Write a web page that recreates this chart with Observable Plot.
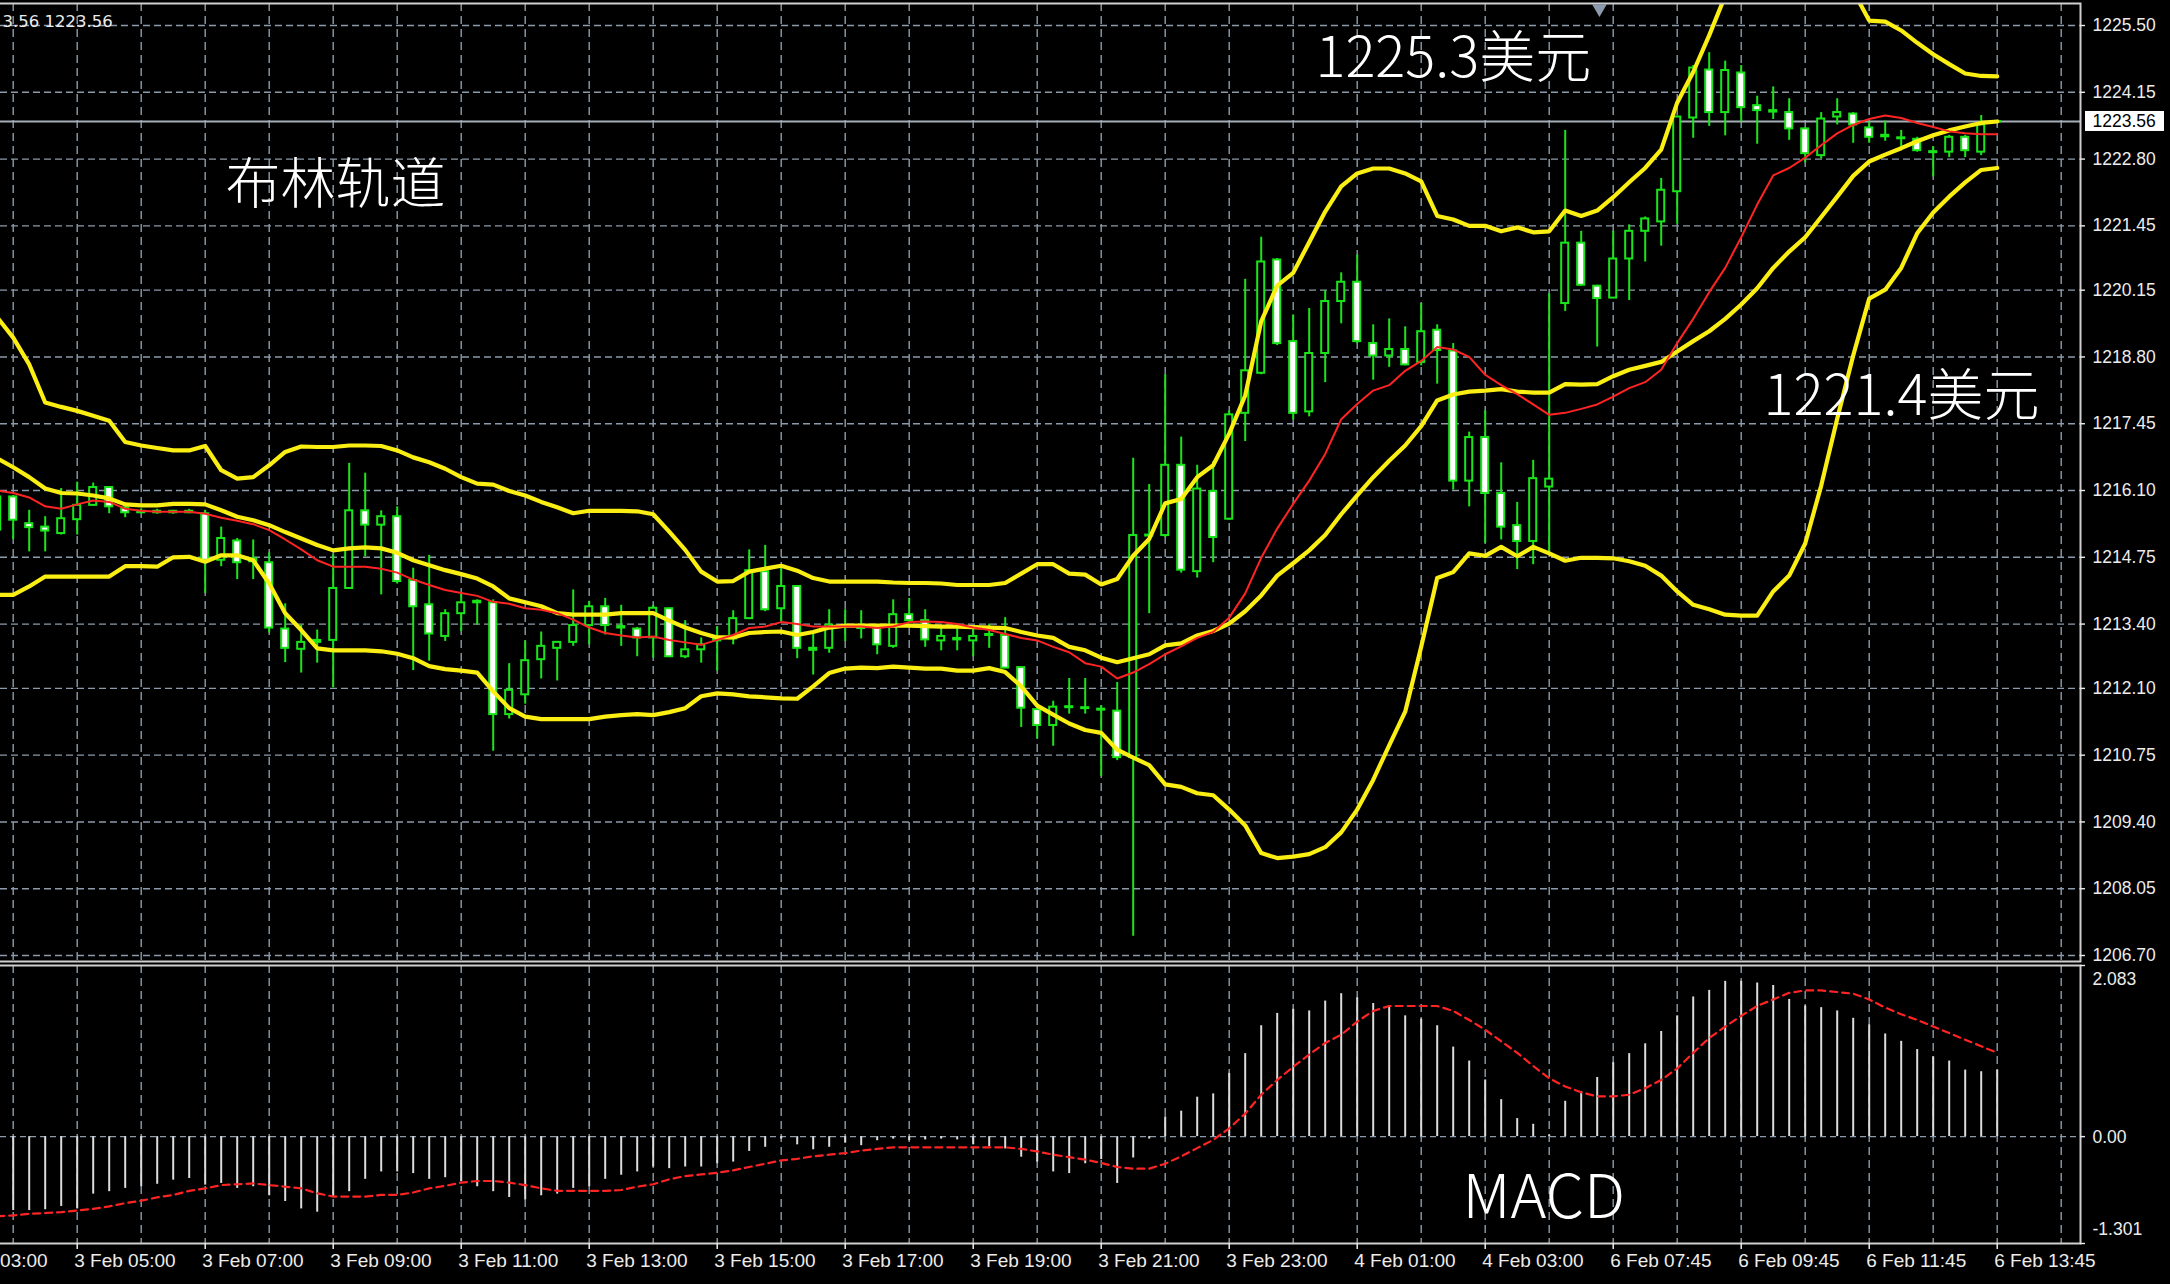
<!DOCTYPE html>
<html>
<head>
<meta charset="utf-8">
<script src="https://cdn.jsdelivr.net/npm/d3@7"></script>
<script src="https://cdn.jsdelivr.net/npm/@observablehq/plot@0.6"></script>
<style>
html, body { margin: 0; padding: 0; background: #000; }
#chart { width: 2170px; height: 1284px; background: #000; overflow: hidden; position: relative; }
#chart svg { display: block; }
#chart svg.mainpanel { position: relative; z-index: 2; overflow: visible; }
#chart svg.macdpanel { position: relative; z-index: 1; }
</style>
</head>
<body>
<div id="chart"></div>
<script>
// ---------- DATA (candle index -1 .. 124, 15-minute bars) ----------
const open = [
1215.30,
1215.97,1215.43,1215.36,1215.23,1215.51,1215.80,1216.16,1215.75,1215.65,1215.68,
1215.65,1215.68,1215.63,1214.69,1215.08,1214.66,1214.64,1213.30,1212.89,1213.03,
1213.07,1214.12,1215.69,1215.40,1215.57,1214.28,1213.79,1213.15,1213.61,1213.83,
1213.83,1211.57,1211.97,1212.68,1212.91,1213.03,1213.37,1213.75,1213.32,1213.30,
1213.12,1213.71,1212.74,1212.88,1213.06,1213.10,1213.51,1214.46,1213.71,1214.16,
1212.87,1212.91,1213.34,1213.31,1213.32,1212.95,1213.59,1213.47,1213.06,1213.08,
1213.06,1213.17,1213.17,1212.52,1211.67,1211.35,1211.71,1211.69,1211.66,1211.64,
1210.70,1215.18,1215.19,1216.61,1214.46,1216.08,1215.52,1217.66,1218.47,1220.76,
1219.11,1217.69,1218.87,1219.92,1220.31,1219.07,1218.82,1218.95,1218.69,1219.34,
1218.92,1216.29,1217.17,1216.04,1215.39,1215.07,1216.17,1219.88,1221.10,1220.23,
1219.99,1220.78,1221.34,1221.53,1222.14,1223.63,1224.60,1223.74,1224.54,1223.88,
1223.75,1223.74,1223.41,1222.87,1223.65,1223.71,1223.43,1223.25,1223.21,1223.20,
1222.93,1222.94,1223.24,1222.94,1223.55];
const high = [
1216.00,
1216.00,1215.70,1215.57,1216.14,1216.27,1216.25,1216.18,1215.82,1215.73,1215.72,
1215.70,1215.72,1215.70,1215.36,1215.13,1215.10,1214.84,1213.81,1213.38,1213.28,
1214.81,1216.65,1216.45,1215.69,1215.77,1214.53,1214.79,1213.69,1214.02,1213.89,
1213.89,1212.60,1213.06,1213.24,1213.05,1214.09,1213.86,1213.92,1213.78,1213.33,
1213.78,1213.72,1213.47,1213.12,1213.35,1213.67,1214.90,1214.99,1214.53,1214.18,
1213.22,1213.69,1213.69,1213.67,1213.33,1213.89,1213.92,1213.69,1213.32,1213.32,
1213.32,1213.40,1213.53,1212.53,1211.70,1211.84,1212.30,1212.30,1211.75,1212.22,
1216.75,1216.22,1218.44,1217.18,1216.61,1216.68,1217.71,1220.37,1221.22,1220.79,
1219.65,1219.78,1220.14,1220.50,1220.86,1219.45,1219.57,1219.41,1219.88,1219.45,
1219.07,1217.28,1217.71,1216.66,1215.86,1216.71,1220.08,1223.38,1221.34,1220.25,
1221.34,1221.47,1221.63,1222.41,1223.67,1224.69,1224.95,1224.78,1224.69,1224.07,
1224.26,1224.02,1223.43,1223.74,1224.02,1223.74,1223.55,1223.57,1223.38,1223.24,
1223.05,1223.28,1223.28,1223.68,1223.58];
const low = [
1215.28,
1215.11,1214.86,1214.86,1215.20,1215.20,1215.78,1215.63,1215.55,1215.63,1215.62,
1215.62,1215.63,1214.02,1214.56,1214.30,1214.30,1213.22,1212.62,1212.41,1212.61,
1212.11,1214.10,1214.76,1213.99,1214.21,1212.46,1212.65,1213.05,1213.25,1213.38,
1210.83,1211.48,1211.78,1212.29,1212.25,1212.95,1212.98,1213.18,1212.95,1212.74,
1212.71,1212.72,1212.70,1212.61,1212.45,1212.98,1213.49,1213.65,1213.45,1212.70,
1212.37,1212.81,1213.05,1213.10,1212.78,1212.91,1213.45,1212.93,1212.86,1212.86,
1212.74,1212.91,1212.50,1211.31,1211.08,1210.93,1211.58,1211.58,1210.32,1210.64,
1207.09,1213.61,1215.15,1214.43,1214.33,1214.64,1215.50,1217.09,1218.44,1219.03,
1217.53,1217.59,1218.28,1219.47,1219.07,1218.33,1218.59,1218.62,1218.62,1218.25,
1216.11,1215.77,1215.03,1215.10,1214.50,1214.60,1214.80,1219.72,1220.23,1219.00,
1219.98,1219.94,1220.72,1221.04,1221.48,1223.22,1223.46,1223.27,1223.55,1223.10,
1223.60,1223.18,1222.72,1222.80,1223.49,1223.12,1223.12,1223.16,1222.97,1222.94,
1222.44,1222.83,1222.83,1222.87,1223.54];
const close = [
1215.97,
1215.50,1215.35,1215.28,1215.53,1215.80,1216.16,1215.77,1215.65,1215.68,1215.65,
1215.68,1215.65,1214.69,1215.13,1214.64,1214.72,1213.32,1212.91,1213.03,1213.07,
1214.12,1215.69,1215.40,1215.57,1214.26,1213.75,1213.20,1213.61,1213.83,1213.86,
1211.57,1212.06,1212.66,1212.95,1213.03,1213.37,1213.75,1213.37,1213.35,1213.12,
1213.72,1212.74,1212.88,1212.98,1213.10,1213.51,1214.48,1213.69,1214.16,1212.91,
1212.91,1213.38,1213.37,1213.34,1212.98,1213.59,1213.47,1213.08,1213.15,1213.11,
1213.15,1213.19,1212.51,1211.70,1211.35,1211.72,1211.73,1211.71,1211.68,1210.70,
1215.19,1215.20,1216.61,1214.49,1216.13,1215.15,1217.63,1218.52,1220.72,1219.07,
1217.66,1218.87,1219.92,1220.31,1219.11,1218.82,1218.95,1218.64,1219.31,1218.93,
1216.29,1217.17,1216.04,1215.36,1215.07,1216.34,1216.33,1221.10,1220.25,1219.98,
1220.78,1221.34,1221.59,1222.17,1223.65,1224.64,1223.74,1224.59,1223.84,1223.78,
1223.78,1223.41,1222.91,1223.61,1223.74,1223.49,1223.24,1223.28,1223.23,1222.97,
1222.95,1223.24,1222.97,1223.49,1223.56];

const upperBand = [
1219.60,
1219.19,1218.65,1217.88,1217.79,1217.71,1217.61,1217.51,1217.08,1217.01,1216.96,
1216.91,1216.91,1217.00,1216.51,1216.34,1216.37,1216.61,1216.88,1216.99,1216.98,
1216.98,1217.01,1217.01,1217.00,1216.91,1216.77,1216.67,1216.54,1216.37,1216.24,
1216.22,1216.09,1216.00,1215.87,1215.76,1215.64,1215.69,1215.69,1215.69,1215.68,
1215.62,1215.27,1214.90,1214.46,1214.26,1214.27,1214.46,1214.52,1214.58,1214.48,
1214.33,1214.26,1214.26,1214.26,1214.26,1214.24,1214.23,1214.23,1214.22,1214.19,
1214.19,1214.19,1214.23,1214.42,1214.61,1214.61,1214.42,1214.40,1214.20,1214.31,
1214.78,1215.12,1215.84,1215.93,1216.37,1216.61,1217.25,1218.02,1219.52,1220.24,
1220.50,1221.12,1221.74,1222.25,1222.51,1222.61,1222.61,1222.51,1222.35,1221.65,
1221.58,1221.45,1221.45,1221.34,1221.42,1221.32,1221.34,1221.76,1221.65,1221.76,
1222.03,1222.33,1222.62,1222.99,1223.94,1224.56,1225.30,1226.10,1226.60,1226.90,
1227.05,1227.10,1227.00,1226.80,1226.55,1226.20,1225.60,1225.58,1225.40,1225.15,
1224.92,1224.72,1224.53,1224.48,1224.47];
const middleBand = [
1216.75,
1216.57,1216.37,1216.14,1216.05,1216.04,1216.00,1215.94,1215.82,1215.80,1215.80,
1215.83,1215.83,1215.82,1215.70,1215.57,1215.50,1215.40,1215.26,1215.13,1215.00,
1214.89,1214.93,1214.95,1214.93,1214.84,1214.69,1214.59,1214.49,1214.41,1214.32,
1214.16,1213.92,1213.84,1213.76,1213.62,1213.59,1213.59,1213.59,1213.62,1213.62,
1213.62,1213.47,1213.33,1213.22,1213.13,1213.13,1213.22,1213.24,1213.25,1213.18,
1213.24,1213.33,1213.37,1213.37,1213.37,1213.37,1213.37,1213.36,1213.35,1213.35,
1213.34,1213.33,1213.32,1213.24,1213.17,1213.12,1212.94,1212.87,1212.72,1212.63,
1212.71,1212.79,1212.97,1213.01,1213.17,1213.26,1213.41,1213.66,1213.98,1214.38,
1214.63,1214.89,1215.20,1215.62,1216.00,1216.37,1216.70,1217.01,1217.40,1217.92,
1218.04,1218.10,1218.12,1218.15,1218.10,1218.08,1218.08,1218.25,1218.24,1218.25,
1218.41,1218.54,1218.62,1218.70,1218.91,1219.12,1219.32,1219.57,1219.86,1220.19,
1220.60,1220.93,1221.22,1221.63,1222.04,1222.46,1222.75,1222.89,1223.02,1223.16,
1223.28,1223.38,1223.46,1223.53,1223.56];
const lowerBand = [
1213.99,
1213.99,1214.16,1214.36,1214.36,1214.36,1214.36,1214.36,1214.57,1214.57,1214.56,
1214.75,1214.76,1214.66,1214.79,1214.79,1214.69,1214.22,1213.62,1213.28,1212.91,
1212.87,1212.87,1212.87,1212.85,1212.80,1212.71,1212.55,1212.49,1212.46,1212.42,
1212.04,1211.70,1211.53,1211.48,1211.48,1211.48,1211.48,1211.53,1211.56,1211.58,
1211.56,1211.62,1211.70,1211.94,1212.00,1211.98,1211.94,1211.92,1211.90,1211.89,
1212.14,1212.41,1212.50,1212.52,1212.51,1212.54,1212.52,1212.50,1212.50,1212.46,
1212.46,1212.51,1212.43,1212.14,1211.75,1211.57,1211.39,1211.26,1211.20,1210.86,
1210.70,1210.55,1210.16,1210.11,1209.98,1209.94,1209.65,1209.33,1208.77,1208.67,
1208.70,1208.75,1208.89,1209.19,1209.65,1210.25,1210.95,1211.63,1212.94,1214.33,
1214.45,1214.83,1214.78,1214.96,1214.77,1214.96,1214.83,1214.68,1214.74,1214.74,
1214.73,1214.67,1214.58,1214.38,1214.06,1213.79,1213.70,1213.59,1213.57,1213.57,
1214.06,1214.38,1215.03,1216.20,1217.55,1218.83,1219.98,1220.16,1220.60,1221.30,
1221.72,1222.04,1222.33,1222.58,1222.62];
const maLine = [
1216.10,
1216.05,1215.96,1215.78,1215.73,1215.82,1215.90,1215.87,1215.73,1215.69,1215.67,
1215.67,1215.67,1215.63,1215.55,1215.49,1215.42,1215.30,1215.11,1214.91,1214.69,
1214.56,1214.56,1214.56,1214.52,1214.44,1214.30,1214.19,1214.09,1214.03,1213.97,
1213.85,1213.81,1213.72,1213.69,1213.62,1213.49,1213.33,1213.22,1213.17,1213.13,
1213.15,1213.08,1213.03,1212.98,1213.08,1213.18,1213.32,1213.35,1213.44,1213.40,
1213.35,1213.35,1213.35,1213.35,1213.32,1213.35,1213.44,1213.45,1213.44,1213.40,
1213.33,1213.28,1213.20,1213.12,1213.07,1212.94,1212.83,1212.61,1212.54,1212.30,
1212.42,1212.59,1212.79,1212.95,1213.12,1213.24,1213.53,1214.02,1214.74,1215.33,
1215.83,1216.30,1216.84,1217.54,1217.85,1218.12,1218.23,1218.52,1218.72,1219.00,
1218.95,1218.80,1218.44,1218.23,1218.05,1217.84,1217.63,1217.67,1217.75,1217.84,
1218.00,1218.17,1218.29,1218.54,1219.08,1219.57,1220.11,1220.60,1221.22,1221.88,
1222.47,1222.62,1222.83,1223.08,1223.32,1223.49,1223.61,1223.68,1223.63,1223.53,
1223.45,1223.36,1223.32,1223.30,1223.30];

// MACD main (histogram), candle index 0 .. 124
const macdHist = [
-0.90,-0.90,-0.89,-0.85,-0.88,-0.70,-0.67,-0.63,-0.61,-0.58,
-0.53,-0.51,-0.59,-0.57,-0.63,-0.61,-0.72,-0.79,-0.88,-0.92,
-0.73,-0.67,-0.52,-0.43,-0.43,-0.45,-0.52,-0.50,-0.55,-0.61,
-0.67,-0.74,-0.77,-0.72,-0.70,-0.63,-0.61,-0.52,-0.47,-0.43,
-0.37,-0.39,-0.37,-0.37,-0.33,-0.31,-0.18,-0.13,-0.03,-0.10,
-0.16,-0.13,-0.08,-0.11,-0.05,-0.03,-0.05,-0.04,-0.03,-0.04,
-0.10,-0.12,-0.15,-0.25,-0.31,-0.43,-0.45,-0.33,-0.28,-0.57,
-0.26,-0.03,0.24,0.31,0.48,0.52,0.77,1.01,1.35,1.50,
1.55,1.53,1.65,1.74,1.69,1.62,1.59,1.47,1.43,1.35,
1.09,0.92,0.69,0.45,0.22,0.15,0.02,0.43,0.55,0.72,
0.90,1.01,1.13,1.28,1.47,1.70,1.78,1.89,1.89,1.87,
1.84,1.67,1.59,1.57,1.53,1.44,1.36,1.25,1.16,1.06,
0.97,0.92,0.81,0.79,0.81];
// MACD signal, candle index -1 .. 124
const macdSignal = [
-0.97,
-0.96,-0.94,-0.93,-0.92,-0.90,-0.88,-0.85,-0.81,-0.78,-0.74,
-0.71,-0.66,-0.63,-0.59,-0.58,-0.57,-0.59,-0.61,-0.63,-0.69,
-0.73,-0.73,-0.73,-0.71,-0.71,-0.68,-0.63,-0.60,-0.56,-0.54,
-0.54,-0.56,-0.59,-0.63,-0.66,-0.66,-0.66,-0.66,-0.65,-0.61,
-0.58,-0.52,-0.48,-0.46,-0.44,-0.41,-0.37,-0.33,-0.29,-0.27,
-0.24,-0.22,-0.20,-0.17,-0.15,-0.13,-0.13,-0.13,-0.13,-0.13,
-0.13,-0.13,-0.13,-0.15,-0.18,-0.22,-0.25,-0.28,-0.32,-0.37,
-0.39,-0.39,-0.33,-0.24,-0.14,-0.04,0.10,0.28,0.51,0.69,
0.85,1.00,1.14,1.24,1.40,1.53,1.59,1.59,1.59,1.59,
1.53,1.42,1.30,1.16,1.02,0.86,0.71,0.61,0.54,0.49,
0.49,0.51,0.59,0.69,0.83,1.02,1.20,1.34,1.47,1.59,
1.67,1.75,1.78,1.78,1.76,1.74,1.67,1.57,1.49,1.42,
1.34,1.26,1.18,1.10,1.02];

const priceTickLabels = ["1206.70","1208.05","1209.40","1210.75","1212.10","1213.40","1214.75","1216.10","1217.45","1218.80","1220.15","1221.45","1222.80","1224.15","1225.50"];
const macdTickLabels = ["2.083", "0.00", "-1.301"];
const macdTickValues = [2.083, 0, -1.301];
const timeLabels = ["3 Feb 03:00","3 Feb 05:00","3 Feb 07:00","3 Feb 09:00","3 Feb 11:00","3 Feb 13:00","3 Feb 15:00","3 Feb 17:00","3 Feb 19:00","3 Feb 21:00","3 Feb 23:00","4 Feb 01:00","4 Feb 03:00","6 Feb 07:45","6 Feb 09:45","6 Feb 11:45","6 Feb 13:45"];
const timeTickIndex = [-4,4,12,20,28,36,44,52,60,68,76,84,92,100,108,116,124];
const hourGridIndex = [0,4,8,12,16,20,24,28,32,36,40,44,48,52,56,60,64,68,72,76,80,84,88,92,96,100,104,108,112,116,120,124,128];
const lastPrice = 1223.56;
const lastPriceLabel = "1223.56";
const headerText = "3.56 1223.56";

// ---------- TABLES ----------
const candles = open.map((o, k) => ({i: k - 1, open: o, high: high[k], low: low[k], close: close[k]}));
const bands = upperBand.map((u, k) => ({i: k - 1, upper: u, middle: middleBand[k], lower: lowerBand[k], ma: maLine[k]}));
const hist = macdHist.map((v, k) => ({i: k, v}));
const signal = macdSignal.map((v, k) => ({i: k - 1, v}));
const priceTicks = priceTickLabels.map(Number);
const timeTicks = timeTickIndex.map((i, k) => ({i, label: timeLabels[k]}));

// ---------- STYLE ----------
const GREEN = "#19e619", YELLOW = "#fbee12", RED = "#ff2424", GRID = "#8c9bab", BORDER = "#cfcfcf", TEXT = "#ececec";
const fontUI = "'Liberation Sans', Arial, sans-serif";
const fontCJK = "'Noto Sans CJK SC', 'Noto Sans', sans-serif";
const xDomain = [-0.79375, 129.206];
const halfBody = 0.22;

const main = Plot.plot({
  width: 2170, height: 963,
  marginLeft: 0, marginRight: 90, marginTop: 3, marginBottom: 2,
  style: {background: "#000", color: TEXT, fontFamily: fontUI, fontSize: "17.5px"},
  x: {domain: xDomain, axis: null},
  y: {domain: [1206.579, 1225.945], axis: null},
  marks: [
    Plot.ruleY(priceTicks, {stroke: GRID, strokeWidth: 1.4, strokeDasharray: "7,4"}),
    Plot.ruleX(hourGridIndex, {stroke: GRID, strokeWidth: 1.4, strokeDasharray: "8,5"}),
    Plot.ruleY([lastPrice], {stroke: "#a6afb8", strokeWidth: 2}),
    Plot.ruleX(candles, {x: "i", y1: "low", y2: "high", stroke: GREEN, strokeWidth: 2}),
    Plot.rect(candles, {filter: d => d.close < d.open, x1: d => d.i - halfBody, x2: d => d.i + halfBody, y1: "open", y2: "close", fill: "#ffffff", stroke: GREEN, strokeWidth: 2}),
    Plot.rect(candles, {filter: d => d.close >= d.open, x1: d => d.i - halfBody, x2: d => d.i + halfBody, y1: "open", y2: "close", fill: "#000000", stroke: GREEN, strokeWidth: 2}),
    Plot.line(bands, {x: "i", y: "upper", stroke: YELLOW, strokeWidth: 4.2, clip: true}),
    Plot.line(bands, {x: "i", y: "middle", stroke: YELLOW, strokeWidth: 4.2, clip: true}),
    Plot.line(bands, {x: "i", y: "lower", stroke: YELLOW, strokeWidth: 4.2, clip: true}),
    Plot.line(bands, {x: "i", y: "ma", stroke: RED, strokeWidth: 2, clip: true}),
    Plot.frame({stroke: BORDER, strokeWidth: 2, insetLeft: -4}),
    // price axis
    Plot.ruleY(priceTicks, {x1: xDomain[1], x2: xDomain[1], insetRight: -5, stroke: TEXT, strokeWidth: 1.4}),
    Plot.text(priceTicks, {y: d => d, text: (d, i) => priceTickLabels[i], frameAnchor: "right", dx: 12, textAnchor: "start", fill: TEXT, fontSize: 17.5}),
    Plot.rect([lastPrice], {x1: xDomain[1], x2: xDomain[1], y1: d => d, y2: d => d, insetLeft: 5, insetRight: -84, insetTop: -10, insetBottom: -10, fill: "#ffffff"}),
    Plot.text([lastPriceLabel], {x: xDomain[1], y: lastPrice, dx: 12, textAnchor: "start", fill: "#000", fontSize: 17.5}),
    // header & marker
    Plot.text([headerText], {frameAnchor: "top-left", dx: 2, dy: 12, lineAnchor: "top", textAnchor: "start", fill: TEXT, fontFamily: "'DejaVu Sans', sans-serif", fontSize: 16.5}),
    Plot.dot([0], {x: 99.14, frameAnchor: "top", dy: 5, symbol: "triangle", rotate: 180, r: 5.5, fill: GRID, stroke: null}),
    // annotations
    Plot.text(["布林轨道"], {x: 13.27, y: 1222.26, textAnchor: "start", fill: "#fff", fontFamily: fontCJK, fontWeight: 300, fontSize: 55}),
    Plot.text(["1225.3美元"], {x: 81.39, y: 1224.83, textAnchor: "start", fill: "#fff", fontFamily: fontCJK, fontWeight: 300, fontSize: 56}),
    Plot.text(["1221.4美元"], {x: 109.4, y: 1217.99, textAnchor: "start", fill: "#fff", fontFamily: fontCJK, fontWeight: 300, fontSize: 56})
  ]
});
main.classList.add("mainpanel");

const macd = Plot.plot({
  width: 2170, height: 321,
  marginLeft: 0, marginRight: 90, marginTop: 2, marginBottom: 41,
  style: {background: "#000", color: TEXT, fontFamily: fontUI, fontSize: "17.5px"},
  x: {domain: xDomain, axis: null},
  y: {domain: [-1.301, 2.083], axis: null},
  marks: [
    Plot.ruleX(hourGridIndex, {stroke: GRID, strokeWidth: 1.4, strokeDasharray: "8,5"}),
    Plot.ruleY([0], {stroke: GRID, strokeWidth: 1.4, strokeDasharray: "6,4"}),
    Plot.ruleX(hist, {x: "i", y1: 0, y2: "v", stroke: "#dcdcdc", strokeWidth: 2}),
    Plot.line(signal, {x: "i", y: "v", stroke: RED, strokeWidth: 2.2, strokeDasharray: "7,5"}),
    Plot.frame({stroke: BORDER, strokeWidth: 2, insetLeft: -4}),
    Plot.ruleY(macdTickValues, {x1: xDomain[1], x2: xDomain[1], insetRight: -5, stroke: TEXT, strokeWidth: 1.4}),
    Plot.text([macdTickLabels[0]], {y: macdTickValues[0], frameAnchor: "right", dx: 12, dy: 14, textAnchor: "start", fill: TEXT, fontSize: 17.5}),
    Plot.text([macdTickLabels[1]], {y: macdTickValues[1], frameAnchor: "right", dx: 12, dy: 1, textAnchor: "start", fill: TEXT, fontSize: 17.5}),
    Plot.text([macdTickLabels[2]], {y: macdTickValues[2], frameAnchor: "right", dx: 12, dy: -14, textAnchor: "start", fill: TEXT, fontSize: 17.5}),
    // time axis
    Plot.ruleX(timeTicks, {x: "i", y1: -1.301, y2: -1.301, insetBottom: -6, stroke: TEXT, strokeWidth: 1.5}),
    Plot.text(timeTicks, {x: "i", text: "label", frameAnchor: "bottom", lineAnchor: "top", dy: 10, dx: -3, textAnchor: "start", fill: TEXT, fontSize: 19}),
    Plot.text(["MACD"], {x: 90.58, y: -0.753, textAnchor: "start", fill: "#fff", fontFamily: fontCJK, fontWeight: 300, fontSize: 61})
  ]
});
macd.classList.add("macdpanel");

const chart = document.getElementById("chart");
chart.appendChild(main);
chart.appendChild(macd);
</script>
</body>
</html>
